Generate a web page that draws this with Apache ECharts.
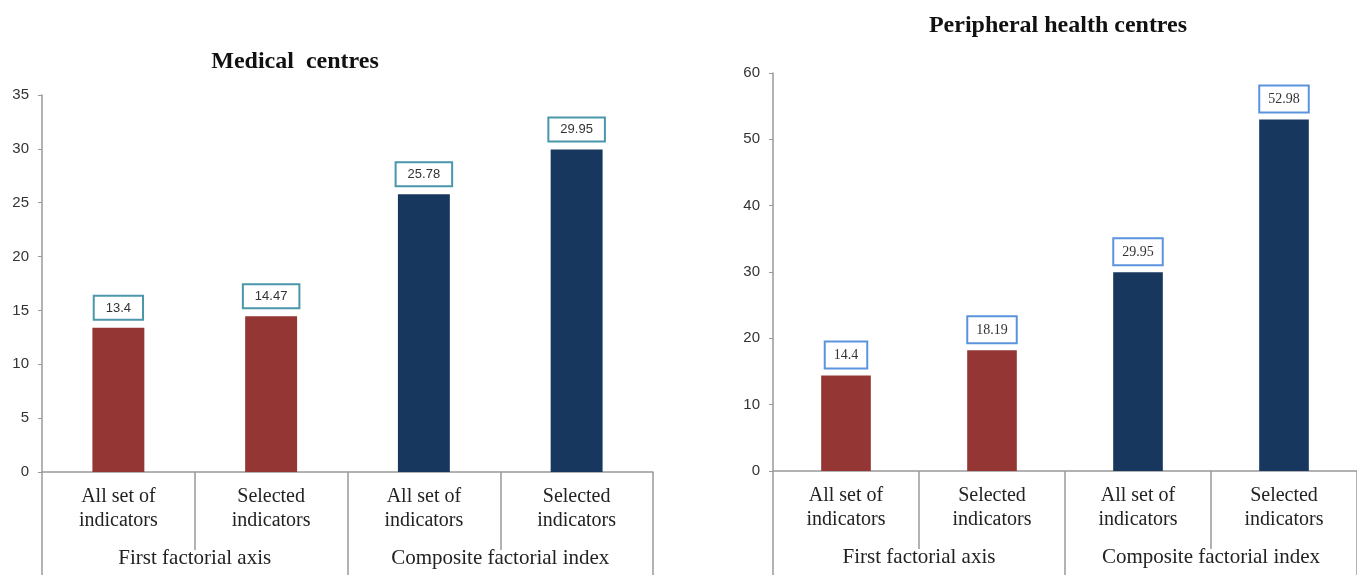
<!DOCTYPE html>
<html>
<head>
<meta charset="utf-8">
<script src="https://cdn.jsdelivr.net/npm/echarts@6/dist/echarts.min.js"></script>
<style>
  html, body { margin: 0; padding: 0; background: #fff; }
  #chart { width: 1357px; height: 575px; }
</style>
</head>
<body>
<div id="chart"></div>
<script>
'use strict';
// data
const categories = ['All set of\nindicators', 'Selected\nindicators', 'All set of\nindicators', 'Selected\nindicators'];
const groups = ['First factorial axis', 'Composite factorial index'];
const medicalValues = [13.4, 14.47, 25.78, 29.95];
const peripheralValues = [14.4, 18.19, 29.95, 52.98];
const barColors = ['#943634', '#943634', '#17375e', '#17375e'];

const serif = '"Liberation Serif", "DejaVu Serif", serif';
const sans = '"Liberation Sans", Arial, sans-serif';
const axisGray = '#999';

function barData(values) {
  return values.map(function(v, i) {
    return {value: v, itemStyle: {color: barColors[i]}};
  });
}

function innerAxis(gridIndex) {
  return {
    type: 'category', gridIndex: gridIndex, data: categories, position: 'bottom',
    axisLine: {lineStyle: {color: axisGray, width: 1.5}},
    axisTick: {show: true, length: 78, alignWithLabel: false, lineStyle: {color: axisGray, width: 1.5}},
    axisLabel: {color: '#222', fontFamily: serif, fontSize: 20, lineHeight: 24, margin: 13}
  };
}

function outerAxis(gridIndex) {
  return {
    type: 'category', gridIndex: gridIndex, data: groups, position: 'bottom',
    axisLine: {show: false},
    axisTick: {show: true, length: 110, lineStyle: {color: axisGray, width: 1.5}},
    axisLabel: {color: '#222', fontFamily: serif, fontSize: 21, lineHeight: 24, margin: 74}
  };
}

function valueAxis(gridIndex, max, interval) {
  return {
    type: 'value', gridIndex: gridIndex, min: 0, max: max, interval: interval,
    splitLine: {show: false},
    axisLine: {show: true, lineStyle: {color: axisGray, width: 1.5}},
    axisTick: {show: true, length: 4, lineStyle: {color: axisGray}},
    axisLabel: {color: '#333', fontFamily: sans, fontSize: 15, margin: 13}
  };
}

var myChart = echarts.init(document.getElementById('chart'));

var option = {
  animation: false,
  backgroundColor: '#fff',
  title: [
    {text: 'Medical  centres', left: 290, top: 45, textAlign: 'center',
     textStyle: {fontFamily: serif, fontWeight: 'bold', fontSize: 24, color: '#111'}},
    {text: 'Peripheral health centres', left: 1053, top: 9, textAlign: 'center',
     textStyle: {fontFamily: serif, fontWeight: 'bold', fontSize: 24, color: '#111'}}
  ],
  grid: [
    {left: 42, right: 704, top: 95, bottom: 103},
    {left: 773, right: 0, top: 73, bottom: 104}
  ],
  xAxis: [innerAxis(0), outerAxis(0), innerAxis(1), outerAxis(1)],
  yAxis: [valueAxis(0, 35, 5), valueAxis(1, 60, 10)],
  series: [
    {
      type: 'bar', xAxisIndex: 0, yAxisIndex: 0, barWidth: '34%',
      data: barData(medicalValues),
      label: {
        show: true, position: 'top', distance: 9,
        fontFamily: sans, fontSize: 13, color: '#333',
        backgroundColor: '#fff', borderColor: '#4a96ab', borderWidth: 2,
        padding: [5, 11, 4, 11]
      }
    },
    {
      type: 'bar', xAxisIndex: 2, yAxisIndex: 1, barWidth: '34%',
      data: barData(peripheralValues),
      label: {
        show: true, position: 'top', distance: 8,
        fontFamily: serif, fontSize: 14, color: '#333',
        backgroundColor: '#fff', borderColor: '#5b93dd', borderWidth: 2,
        padding: [6, 8, 5, 8]
      }
    }
  ]
};

myChart.setOption(option, true);
</script>
</body>
</html>
